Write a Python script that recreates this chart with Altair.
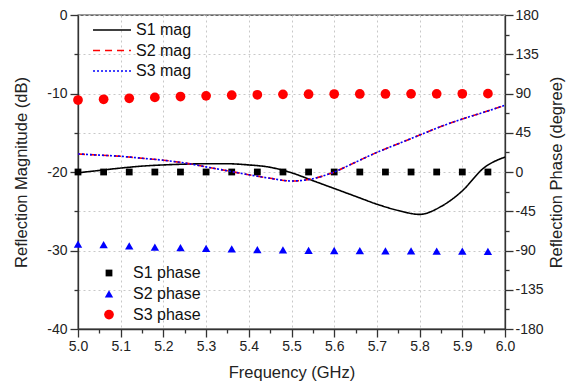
import altair as alt
import pandas as pd

# ---- data ----
freq_mag = [5.00, 5.05, 5.10, 5.15, 5.20, 5.25, 5.30, 5.35, 5.40, 5.45, 5.50,
            5.55, 5.60, 5.65, 5.70, 5.75, 5.80, 5.85, 5.90, 5.95, 6.00]
s1_mag = [-20.1, -19.8, -19.5, -19.25, -19.1, -19.0, -18.95, -18.95, -19.1, -19.4, -20.1,
          -21.1, -22.1, -23.1, -24.1, -24.9, -25.4, -24.4, -22.4, -19.5, -18.1]
s2_mag = [-17.7, -17.85, -18.0, -18.25, -18.5, -18.85, -19.35, -19.85, -20.35, -20.8, -21.15,
          -20.85, -20.0, -18.75, -17.5, -16.4, -15.3, -14.2, -13.25, -12.4, -11.5]
s3_mag = [-17.7, -17.85, -18.0, -18.25, -18.5, -18.85, -19.35, -19.85, -20.35, -20.8, -21.15,
          -20.85, -20.0, -18.75, -17.5, -16.4, -15.3, -14.2, -13.25, -12.4, -11.5]

freq_phase = [5.00, 5.06, 5.12, 5.18, 5.24, 5.30, 5.36, 5.42, 5.48,
              5.54, 5.60, 5.66, 5.72, 5.78, 5.84, 5.90, 5.96]
s1_phase = [0, 0, 0, 0, 0, 0, 0, 0, 0, 0, 0, 0, 0, 0, 0, 0, 0]
s2_phase = [-82.6, -83.3, -84.8, -86.0, -86.8, -87.5, -88.2, -89.0, -89.3,
            -89.8, -90.0, -90.2, -90.3, -90.5, -90.6, -90.8, -91.0]
s3_phase = [82.5, 83.4, 84.5, 85.5, 86.5, 87.3, 88.0, 88.5, 89.0,
            89.2, 89.4, 89.5, 89.5, 89.6, 89.6, 89.7, 89.8]

mag_names = ["S1 mag", "S2 mag", "S3 mag"]
phase_names = ["S1 phase", "S2 phase", "S3 phase"]

x_ticks = [5.0, 5.05, 5.1, 5.15, 5.2, 5.25, 5.3, 5.35, 5.4, 5.45, 5.5,
           5.55, 5.6, 5.65, 5.7, 5.75, 5.8, 5.85, 5.9, 5.95, 6.0]
y_left_ticks = [-40, -35, -30, -25, -20, -15, -10, -5, 0]
y_right_ticks = [-180, -157.5, -135, -112.5, -90, -67.5, -45, -22.5, 0,
                 22.5, 45, 67.5, 90, 112.5, 135, 157.5, 180]

# ---- tables ----
mag_rows = []
for name, vals in zip(mag_names, [s1_mag, s2_mag, s3_mag]):
    for f, v in zip(freq_mag, vals):
        mag_rows.append({"freq": f, "mag": v, "series": name})
mag_df = pd.DataFrame(mag_rows)

phase_rows = []
for name, vals in zip(phase_names, [s1_phase, s2_phase, s3_phase]):
    for f, v in zip(freq_phase, vals):
        phase_rows.append({"freq": f, "phase": v, "series": name})
phase_df = pd.DataFrame(phase_rows)

FONT = "Liberation Sans"
AX = "#333333"
GRID = "#c8c8c8"

x_enc = alt.X(
    "freq:Q",
    scale=alt.Scale(domain=[5.0, 6.0], nice=False, zero=False),
    axis=alt.Axis(
        values=x_ticks,
        title="Frequency (GHz)",
        titleY=48,
        titleBaseline="alphabetic",
        labelExpr="abs(datum.value*10 - round(datum.value*10)) < 0.001 ? format(datum.value, '.1f') : ''",
        tickSize={"condition": {"test": "abs(datum.value*10 - round(datum.value*10)) < 0.001", "value": 8}, "value": 4},
        gridOpacity={"condition": {"test": "abs(datum.value*10 - round(datum.value*10)) < 0.001", "value": 1}, "value": 0},
        grid=True,
        gridDash=[2, 3],
        gridColor=GRID,
        labelPadding=2,
        labelFlush=False,
        labelOverlap=False,
    ),
)

pt_legend = alt.Legend(
    title=None, orient="none", legendX=23, legendY=250, direction="vertical",
    symbolSize=66, labelFontSize=16, labelOffset=16, rowPadding=4.8, padding=0,
)

points = alt.Chart(phase_df).mark_point(filled=True, opacity=1, strokeWidth=0).encode(
    x=x_enc,
    y=alt.Y(
        "phase:Q",
        scale=alt.Scale(domain=[-180, 180], nice=False, zero=False),
        axis=alt.Axis(
            orient="right",
            values=y_right_ticks,
            title="Reflection Phase (degree)",
            titleAngle=270,
            titleX=51,
            titleBaseline="middle",
            titleAlign="center",
            labelExpr="datum.value % 45 === 0 ? '' + datum.value : ''",
            tickSize={"condition": {"test": "datum.value % 45 === 0", "value": 8}, "value": 4},
            grid=False,
            labelPadding=2,
            labelOverlap=False,
            labelFlush=False,
        ),
    ),
    color=alt.Color(
        "series:N",
        scale=alt.Scale(domain=phase_names, range=["#000000", "#0000ff", "#ff0000"]),
        legend=pt_legend,
    ),
    shape=alt.Shape(
        "series:N",
        scale=alt.Scale(domain=phase_names, range=["square", "triangle-up", "circle"]),
        legend=pt_legend,
    ),
    size=alt.Size(
        "series:N",
        scale=alt.Scale(domain=phase_names, range=[46, 95, 62]),
        legend=None,
    ),
)

ln_legend = alt.Legend(
    title=None, orient="none", legendX=26, legendY=7, direction="vertical",
    symbolType="M-4,0H4", symbolSize=90, symbolStrokeWidth=1.6,
    labelFontSize=16, labelOffset=16, rowPadding=4.5, padding=0,
)

lines = alt.Chart(mag_df).mark_line(strokeWidth=1.6, interpolate="monotone").encode(
    x=x_enc,
    y=alt.Y(
        "mag:Q",
        scale=alt.Scale(domain=[-40, 0], nice=False, zero=False),
        axis=alt.Axis(
            orient="left",
            values=y_left_ticks,
            title="Reflection Magnitude (dB)",
            titleAngle=270,
            titleX=-57,
            titleBaseline="middle",
            titleAlign="center",
            labelExpr="datum.value % 10 === 0 ? '' + datum.value : ''",
            tickSize={"condition": {"test": "datum.value % 10 === 0", "value": 8}, "value": 4},
            grid=True,
            gridDash=[2, 3],
            gridColor=GRID,
            labelPadding=3,
            labelOverlap=False,
            labelFlush=False,
        ),
    ),
    color=alt.Color(
        "series:N",
        scale=alt.Scale(domain=mag_names, range=["#000000", "#ff0000", "#0000ff"]),
        legend=ln_legend,
    ),
    strokeDash=alt.StrokeDash(
        "series:N",
        scale=alt.Scale(domain=mag_names, range=[[1, 0], [7, 5], [2, 2]]),
        legend=ln_legend,
    ),
)

chart = (
    alt.layer(points, lines)
    .resolve_scale(y="independent", color="independent", shape="independent",
                   strokeDash="independent", size="independent")
    .properties(
        width=427,
        height=314,
        autosize=alt.AutoSizeParams(type="none"),
        padding={"left": 78, "top": 15, "right": 75, "bottom": 59},
        background="white",
    )
    .configure(font=FONT)
    .configure_view(stroke=AX, strokeWidth=1.3)
    .configure_axis(
        domainColor=AX, domainWidth=1.3, tickColor=AX, tickWidth=1.3,
        labelColor="#222222", titleColor="#222222", labelFont=FONT, titleFont=FONT,
        labelFontSize=14, titleFontSize=16.5, titleFontWeight="normal",
    )
    .configure_legend(labelFont=FONT, labelColor="#111111", labelLimit=0)
)

chart.save("out.html", embed_options={"renderer": "svg", "actions": False})
